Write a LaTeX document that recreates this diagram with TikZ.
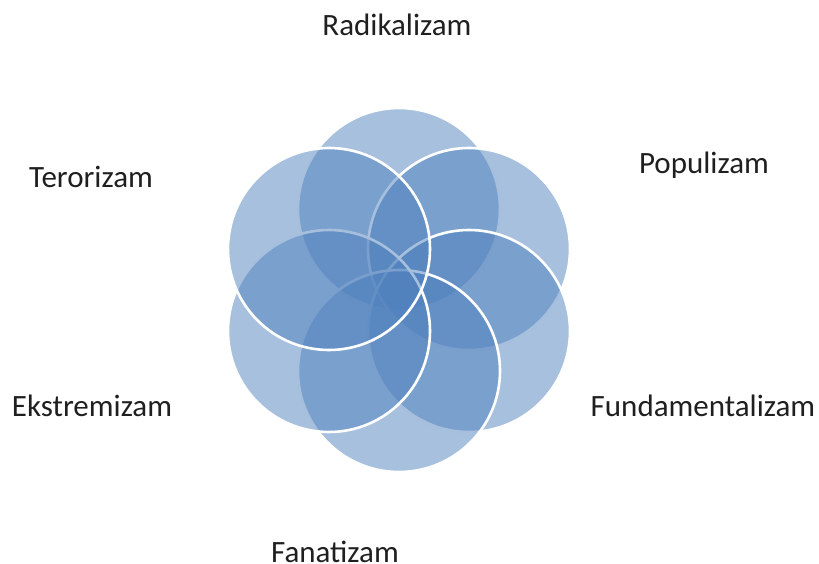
\documentclass[tikz,border=0pt]{standalone}
\usepackage{fontspec}
\setmainfont{Carlito}
\definecolor{petalblue}{RGB}{79,129,189}

\begin{document}
\begin{tikzpicture}[x=1pt,y=-1pt,
    petal/.style={circle,minimum size=202pt,inner sep=0pt,fill=petalblue,fill opacity=0.5,draw=white,line width=2.6pt},
    term/.style={font=\fontsize{31}{37}\selectfont,text=black!88,inner sep=0pt}]
    \useasboundingbox (0,0) rectangle (819,564);
    % circles, last one on top
    \foreach \x/\y/\nm in {399/209/top,469/249/upright,469/331/lowright,399/371/bottom,329/331/lowleft,329/249/upleft}
        \node[petal] (\nm) at (\x,\y) {};
    % labels
    \node[term] (radikalizam) at (397,25) {Radikalizam};
    \node[term] (populizam) at (704,165) {Populizam};
    \node[term] (terorizam) at (91,177) {Terorizam};
    \node[term] (ekstremizam) at (92,406) {Ekstremizam};
    \node[term] (fundamentalizam) at (703,406) {Fundamentalizam};
    \node[term] (fanatizam) at (335,552) {Fanatizam};
\end{tikzpicture}
\end{document}
